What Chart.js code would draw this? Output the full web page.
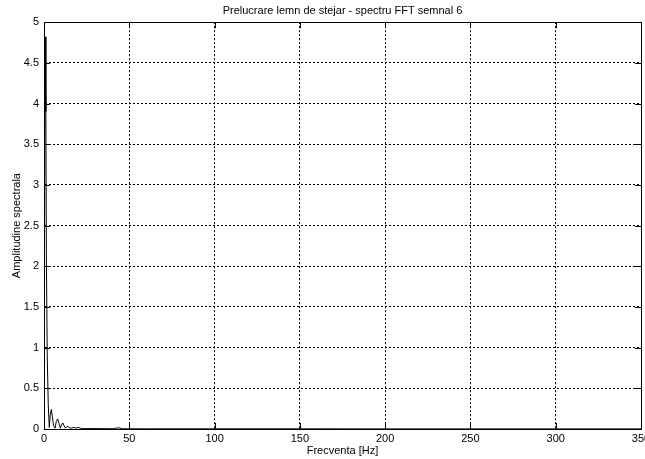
<!DOCTYPE html>
<html>
<head>
<meta charset="utf-8">
<script src="https://cdn.jsdelivr.net/npm/chart.js@4/dist/chart.umd.min.js"></script>
<style>
  html, body { margin: 0; padding: 0; background: #fff; }
  canvas { display: block; }
</style>
</head>
<body>
<canvas id="fft" width="645" height="459"></canvas>
<script>
// spectrum (Hz, amplitude)
var freq = [0, 0.7, 1.1, 1.4, 1.9, 2.5, 3.1, 3.7, 4.3, 4.9, 5.6, 6.5, 7.2, 8.0, 8.8, 9.6,
            10.3, 11.0, 11.8, 12.6, 13.4, 14.0, 14.8, 16.0, 17.5, 18.5, 20.0, 22.0, 30.0,
            40.0, 44.0, 46.0, 60.0, 100.0, 150.0, 200.0, 250.0, 300.0, 350.0];
var amp = [0.5, 4.82, 3.9, 2.1, 0.9, 0.3, 0.02, 0.18, 0.24, 0.15, 0.04, 0.01, 0.09, 0.125, 0.07, 0.01,
           0.05, 0.075, 0.04, 0.01, 0.03, 0.035, 0.015, 0.01, 0.02, 0.01, 0.02, 0.005, 0.005,
           0.003, 0.015, 0.003, 0.002, 0.002, 0.002, 0.001, 0.001, 0.001, 0.001];

var titleText = 'Prelucrare lemn de stejar - spectru FFT semnal 6';
var xLabel = 'Frecventa [Hz]';
var yLabel = 'Amplitudine spectrala';

var font = { family: '"Liberation Sans", Arial, sans-serif', size: 11 };

// matlab style box with inward ticks
var boxPlugin = {
  id: 'box',
  afterDraw: function (chart) {
    var ctx = chart.ctx, a = chart.chartArea;
    var xs = chart.scales.x, ys = chart.scales.y;
    ctx.save();
    ctx.strokeStyle = '#000';
    ctx.lineWidth = 1;
    ctx.strokeRect(Math.round(a.left) + 0.5, Math.round(a.top) + 0.5,
                   Math.round(a.right - a.left), Math.round(a.bottom - a.top));
    ctx.beginPath();
    xs.ticks.forEach(function (t) {
      var px = Math.round(xs.getPixelForValue(t.value)) + 0.5;
      ctx.moveTo(px, a.bottom); ctx.lineTo(px, a.bottom - 6);
      ctx.moveTo(px, a.top); ctx.lineTo(px, a.top + 6);
    });
    ys.ticks.forEach(function (t) {
      var py = Math.round(ys.getPixelForValue(t.value)) + 0.5;
      ctx.moveTo(a.left, py); ctx.lineTo(a.left + 6, py);
      ctx.moveTo(a.right, py); ctx.lineTo(a.right - 6, py);
    });
    ctx.stroke();
    ctx.restore();
  }
};

new Chart(document.getElementById('fft'), {
  type: 'line',
  data: {
    datasets: [{
      data: freq.map(function (f, i) { return { x: f, y: amp[i] }; }),
      borderColor: '#000',
      borderWidth: 1,
      pointRadius: 0,
      tension: 0,
      fill: false
    }]
  },
  options: {
    responsive: false,
    animation: false,
    layout: { padding: { left: 0, right: 4, top: 0, bottom: 0 } },
    plugins: {
      legend: { display: false },
      tooltip: { enabled: false },
      title: {
        display: true,
        text: titleText,
        fullSize: false,
        color: '#000',
        font: { family: font.family, size: 11, weight: 'normal' },
        padding: { top: 4, bottom: 5 }
      }
    },
    scales: {
      x: {
        type: 'linear',
        min: 0,
        max: 350,
        afterFit: function (s) { s.height = 30; s.paddingRight = 0; s.paddingLeft = 0; },
        ticks: { stepSize: 50, color: '#000', font: font, padding: 3, maxRotation: 0 },
        grid: { color: '#000', lineWidth: 1, drawTicks: false },
        border: { display: true, color: '#000', dash: [2, 2] },
        title: { display: true, text: xLabel, color: '#000', font: font, padding: { top: 0, bottom: 1 } }
      },
      y: {
        min: 0,
        max: 5,
        afterFit: function (s) { s.width = 44; },
        ticks: { stepSize: 0.5, color: '#000', font: font, padding: 5,
                 callback: function (v) { return String(v); } },
        grid: { color: '#000', lineWidth: 1, drawTicks: false },
        border: { display: true, color: '#000', dash: [2, 2] },
        title: { display: true, text: yLabel, color: '#000', font: font, padding: { top: 10, bottom: 0 } }
      }
    }
  },
  plugins: [boxPlugin]
});
</script>
</body>
</html>
